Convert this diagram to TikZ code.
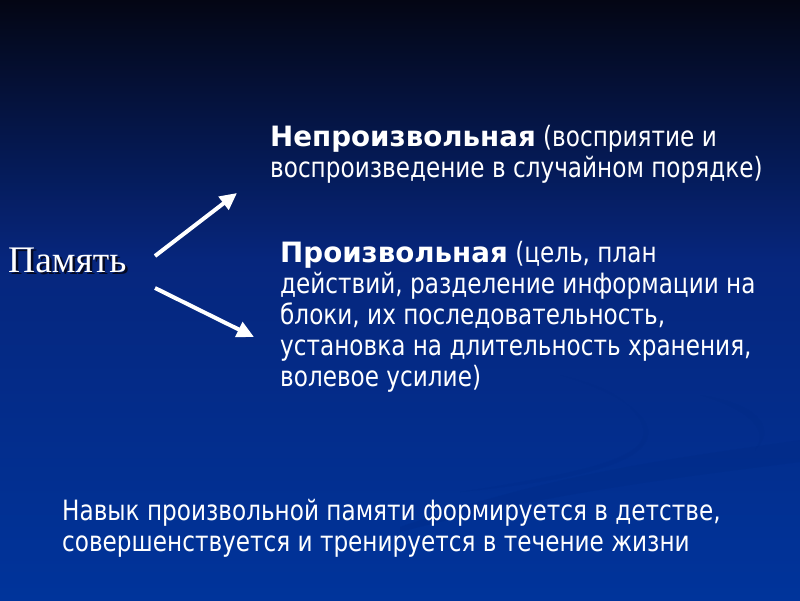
\documentclass[tikz,border=0pt]{standalone}
\usepackage{fontspec}
\setmainfont[FakeStretch=0.827,BoldFeatures={FakeStretch=0.99}]{DejaVu Sans}
\newfontfamily\serifpam{Liberation Serif}
\usetikzlibrary{arrows.meta}
\definecolor{bgtop}{RGB}{4,6,20}
\definecolor{bgmid}{RGB}{6,38,125}
\definecolor{bgbot}{RGB}{0,52,155}
\definecolor{swoosh}{RGB}{0,40,130}
\definecolor{pamshadow}{RGB}{5,10,35}
\tikzset{
  body/.style={text=white, anchor=base west, align=left, inner sep=0pt,
    font=\fontsize{28}{31}\selectfont},
  arr/.style={white, line width=4pt, -{Triangle[length=17pt,width=16pt]}},
  pam/.style={anchor=base west, inner sep=0pt, text=white,
    font=\serifpam\fontsize{37.5}{40}\selectfont}
}
\newcommand{\shadowtext}[1]{\makebox[0pt][l]{\hspace{2.5pt}\raisebox{-2.5pt}{\textcolor{pamshadow}{#1}}}#1}
\begin{document}
\begin{tikzpicture}[x=1pt,y=-1pt]
\useasboundingbox (0,0) rectangle (800,600);
% background
\shade[top color=bgtop, bottom color=bgmid] (0,0) rectangle (800,260);
\shade[top color=bgmid, bottom color=bgbot] (0,259.5) rectangle (800,600);
% faint swooshes
\fill[swoosh, opacity=0.25] (400,527) .. controls (560,470) and (700,455) .. (800,440)
  -- (800,462) .. controls (700,475) and (560,490) .. (400,532) -- cycle;
\fill[swoosh, opacity=0.2] (460,492) .. controls (600,470) and (660,455) .. (640,420)
  .. controls (625,395) and (600,385) .. (560,375)
  .. controls (610,390) and (645,410) .. (648,430)
  .. controls (652,462) and (580,480) .. (460,492) -- cycle;
\fill[swoosh, opacity=0.2] (700,395) .. controls (750,410) and (770,430) .. (755,450)
  .. controls (775,432) and (765,405) .. (700,395) -- cycle;
% texts
\node[pam] (pam) at (8,272) {\shadowtext{Память}};
\node[body] (inv) at (270,177) {\textbf{Непроизвольная} (восприятие и\\воспроизведение в случайном порядке)};
\node[body] (vol) at (280,386) {\textbf{Произвольная} (цель, план\\действий, разделение информации на\\блоки, их последовательность,\\установка на длительность хранения,\\волевое усилие)};
\node[body] (skill) at (62,551) {Навык произвольной памяти формируется в детстве,\\совершенствуется и тренируется в течение жизни};
% arrows
\coordinate (a1s) at (155,256);
\coordinate (a1e) at (237,193);
\coordinate (a2s) at (155,288);
\coordinate (a2e) at (254,337);
\draw[arr] (a1s) -- (a1e);
\draw[arr] (a2s) -- (a2e);
\end{tikzpicture}
\end{document}
